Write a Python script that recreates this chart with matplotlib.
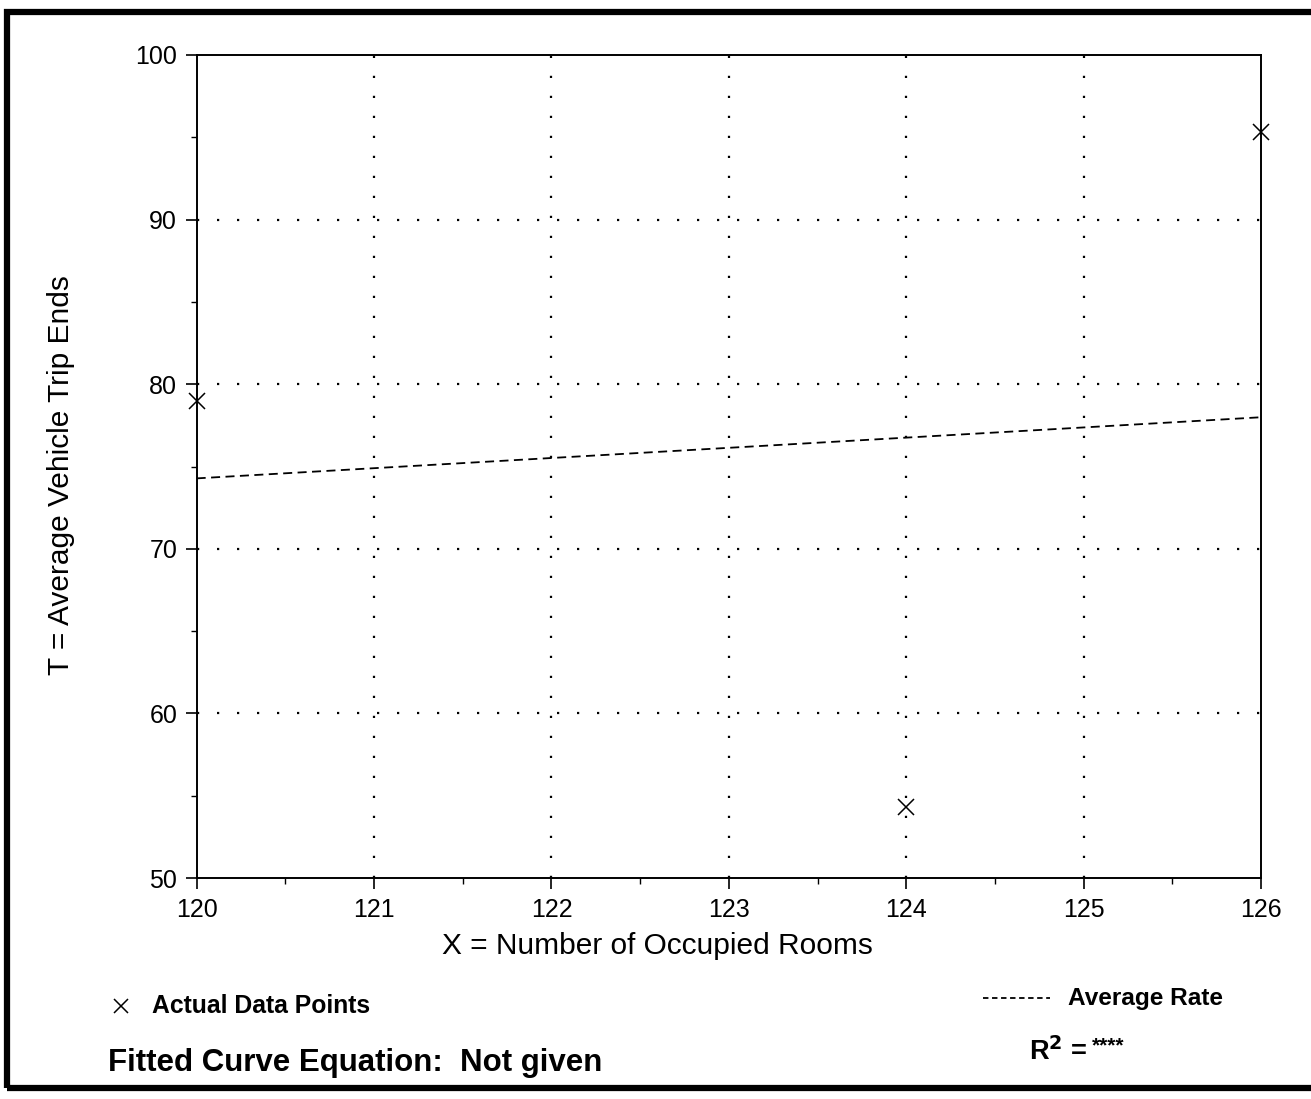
import matplotlib
matplotlib.use('Agg')
import matplotlib.pyplot as plt
from matplotlib.patches import Rectangle
from matplotlib.ticker import MultipleLocator
import numpy as np

rooms = [120, 124, 126]
trip_ends = [79.0, 54.3, 95.3]
avg_rate = 0.619
x_ticks = [120, 121, 122, 123, 124, 125, 126]
y_ticks = [50, 60, 70, 80, 90, 100]

plt.rcParams['font.family'] = ['Liberation Sans', 'DejaVu Sans']

fig = plt.figure(figsize=(13.11, 10.99), dpi=100)
ax = fig.add_axes([0.150, 0.201, 0.812, 0.749])

# average rate line through the origin, drawn across the x range
xr = np.array([x_ticks[0], x_ticks[-1]])
ax.plot(xr, avg_rate * xr, color='black', lw=1.3, linestyle=(0, (5, 3)))
ax.plot(rooms, trip_ends, linestyle='none', marker='x', color='black',
        markersize=11, markeredgewidth=1.1, clip_on=False)

ax.set_xlim(120, 126)
ax.set_ylim(50, 100)
ax.set_xticks(x_ticks)
ax.set_yticks(y_ticks)
ax.xaxis.set_minor_locator(MultipleLocator(0.5))
ax.yaxis.set_minor_locator(MultipleLocator(5))
ax.tick_params(which='major', direction='out', length=8, width=1.2, labelsize=18, pad=6)
ax.tick_params(which='minor', direction='out', length=4, width=1.0)

for gx in x_ticks[1:-1]:
    ax.axvline(gx, color='black', lw=1.6, linestyle=(0, (1, 8)))
for gy in y_ticks[1:-1]:
    ax.axhline(gy, color='black', lw=1.6, linestyle=(0, (1, 8)))

for s in ax.spines.values():
    s.set_linewidth(1.4)

ax.set_xlabel('X = Number of Occupied Rooms', fontsize=21.5)
ax.xaxis.set_label_coords(0.433, -0.066)
ax.set_ylabel('T = Average Vehicle Trip Ends', fontsize=21.5)
ax.yaxis.set_label_coords(-0.114, 0.49)

# legend-like notes under the plot
fig.lines.append(plt.Line2D([121 / 1311], [1 - 1006 / 1099], transform=fig.transFigure,
                            linestyle='none', marker='x', color='black',
                            markersize=10, markeredgewidth=1.1))
fig.text(0.116, 1 - 1006 / 1099, 'Actual Data Points', fontsize=17.8, fontweight='bold',
         ha='left', va='center')
fig.text(0.082, 1 - 1063 / 1099, 'Fitted Curve Equation:  Not given', fontsize=22.5,
         fontweight='bold', ha='left', va='center')
fig.lines.append(plt.Line2D([983 / 1311, 1050 / 1311], [1 - 998 / 1099] * 2,
                            transform=fig.transFigure, color='black', lw=1.3,
                            linestyle=(0, (3, 2))))
fig.text(1068 / 1311, 1 - 998 / 1099, 'Average Rate', fontsize=17.6, fontweight='bold',
         ha='left', va='center')
fig.text(1087 / 1311, 1 - 1052 / 1099, r'R$^\mathbf{2}$ =', fontsize=19.5,
         fontweight='bold', ha='right', va='center')
fig.text(1092 / 1311, 1 - 1046 / 1099, '****', fontsize=15,
         fontweight='bold', ha='left', va='center')

# outer frame of the scanned page
fig.patches.append(Rectangle((7 / 1311, 1 - 1088 / 1099), 1.1, (1088 - 12) / 1099,
                             transform=fig.transFigure, fill=False, lw=4.5,
                             edgecolor='black'))

fig.savefig('out.png', dpi=100)
